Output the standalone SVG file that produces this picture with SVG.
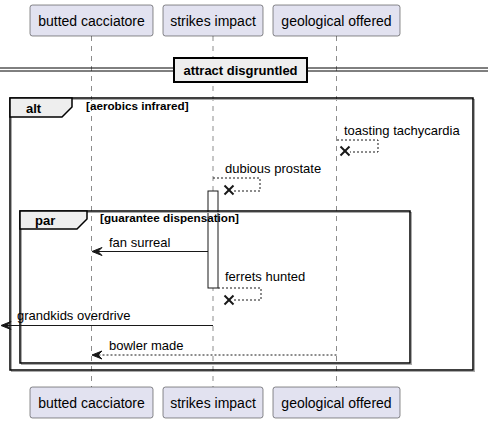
<svg xmlns="http://www.w3.org/2000/svg" width="488" height="423" viewBox="0 0 488 423">
<style>
text{font-family:"Liberation Sans",Arial,sans-serif;fill:#000}
.p rect{fill:#E2E2F0;stroke:#181818;stroke-width:0.5}
.p text{font-size:14px;text-anchor:middle}
.life{stroke:#181818;stroke-width:0.5;stroke-dasharray:5,5}
.msg{font-size:13px}
.frame{fill:none;stroke:#000;stroke-width:1.5}
.shadow{fill:none;stroke:#aaa;stroke-width:1}
.tab{fill:#EEEEEE;stroke:#000;stroke-width:1.5}
.ft{font-size:13px;font-weight:bold}
.fc{font-size:11.7px;font-weight:bold}
.solid{stroke:#181818;stroke-width:1;fill:none}
.dash{stroke:#181818;stroke-width:1;fill:none;stroke-dasharray:2,2}
.x{stroke:#181818;stroke-width:2}
.head{fill:#181818;stroke:#181818;stroke-width:1}
</style>
<g id="lifelines">
<line class="life" x1="91.5" y1="36" x2="91.5" y2="387"/>
<line class="life" x1="213" y1="36" x2="213" y2="387"/>
<line class="life" x1="336.5" y1="36" x2="336.5" y2="387"/>
</g>
<g id="activation">
<rect x="208" y="191" width="10" height="97" fill="#fff" stroke="#181818" stroke-width="1"/>
</g>
<g id="divider">
<line x1="0" y1="68" x2="488" y2="68" stroke="#000" stroke-width="1"/>
<line x1="0" y1="71" x2="488" y2="71" stroke="#000" stroke-width="1"/>
<rect x="174" y="58" width="133" height="24" fill="#EEEEEE" stroke="#000" stroke-width="2"/>
<text class="ft" x="240.5" y="75" text-anchor="middle">attract disgruntled</text>
</g>
<g id="alt">
<rect class="shadow" x="11.5" y="99.5" width="463" height="272"/>
<rect class="frame" x="10" y="98" width="463" height="272"/>
<polygon class="tab" points="10,98 72,98 72,107 62,117 10,117"/>
<text class="ft" x="26" y="113">alt</text>
<text class="fc" x="86" y="110">[aerobics infrared]</text>
</g>
<g id="par">
<rect class="shadow" x="21.5" y="212.5" width="390" height="152"/>
<rect class="frame" x="20" y="211" width="390" height="152"/>
<polygon class="tab" points="20,211 87,211 87,219 77,229 20,229"/>
<text class="ft" x="35" y="225">par</text>
<text class="fc" x="100" y="222">[guarantee dispensation]</text>
</g>
<g id="connectors">
<path class="dash" d="M337,140 H378 V152 H350"/>
<line class="x" x1="340.5" y1="146.5" x2="349.5" y2="155.5"/>
<line class="x" x1="340.5" y1="155.5" x2="349.5" y2="146.5"/>
<text class="msg" x="344" y="135">toasting tachycardia</text>

<path class="dash" d="M213,178 H260 V191 H234"/>
<line class="x" x1="224.5" y1="185.5" x2="233.5" y2="194.5"/>
<line class="x" x1="224.5" y1="194.5" x2="233.5" y2="185.5"/>
<text class="msg" x="225" y="173">dubious prostate</text>

<line class="solid" x1="208" y1="251.5" x2="94" y2="251.5"/>
<polygon class="head" points="92,251.5 102,247.5 98,251.5 102,255.5"/>
<text class="msg" x="109" y="247">fan surreal</text>

<path class="dash" d="M218,288 H261 V300 H234"/>
<line class="x" x1="224.5" y1="295.5" x2="233.5" y2="304.5"/>
<line class="x" x1="224.5" y1="304.5" x2="233.5" y2="295.5"/>
<text class="msg" x="225" y="281">ferrets hunted</text>

<line class="solid" x1="213" y1="325.5" x2="3" y2="325.5"/>
<polygon class="head" points="1,325.5 11,321.5 7,325.5 11,329.5"/>
<text class="msg" x="17" y="320">grandkids overdrive</text>

<line class="dash" x1="336.5" y1="355" x2="94" y2="355"/>
<polygon class="head" points="92,355 102,351 98,355 102,359"/>
<text class="msg" x="109" y="350">bowler made</text>
</g>
<g id="p1-top" class="p"><rect x="30" y="5" width="123" height="31" rx="2.5"/><text x="91.5" y="26">butted cacciatore</text></g>
<g id="p2-top" class="p"><rect x="163" y="5" width="100" height="31" rx="2.5"/><text x="213" y="26">strikes impact</text></g>
<g id="p3-top" class="p"><rect x="273" y="5" width="127" height="31" rx="2.5"/><text x="336.5" y="26">geological offered</text></g>
<g id="p1-bottom" class="p"><rect x="30" y="387" width="123" height="31" rx="2.5"/><text x="91.5" y="408">butted cacciatore</text></g>
<g id="p2-bottom" class="p"><rect x="163" y="387" width="100" height="31" rx="2.5"/><text x="213" y="408">strikes impact</text></g>
<g id="p3-bottom" class="p"><rect x="273" y="387" width="127" height="31" rx="2.5"/><text x="336.5" y="408">geological offered</text></g>
</svg>
